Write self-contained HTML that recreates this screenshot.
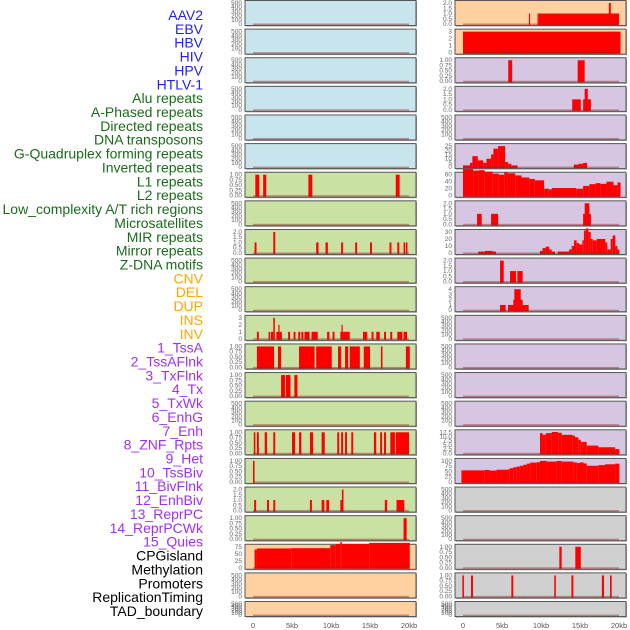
<!DOCTYPE html>
<html><head><meta charset="utf-8"><style>
html,body{margin:0;padding:0;background:#fff;}
svg{display:block;font-family:"Liberation Sans",sans-serif;}
</style></head><body>
<svg id="chart" width="630" height="630" viewBox="0 0 630 630" xmlns="http://www.w3.org/2000/svg"></svg>
<script>
// ---- data (intervals: [start kb, end kb, value]) ----
const trackLabels = ["AAV2","EBV","HBV","HIV","HPV","HTLV-1","Alu repeats","A-Phased repeats","Directed repeats","DNA transposons","G-Quadruplex forming repeats","Inverted repeats","L1 repeats","L2 repeats","Low_complexity A/T rich regions","Microsatellites","MIR repeats","Mirror repeats","Z-DNA motifs","CNV","DEL","DUP","INS","INV","1_TssA","2_TssAFlnk","3_TxFlnk","4_Tx","5_TxWk","6_EnhG","7_Enh","8_ZNF_Rpts","9_Het","10_TssBiv","11_BivFlnk","12_EnhBiv","13_ReprPC","14_ReprPCWk","15_Quies","CPGisland","Methylation","Promoters","ReplicationTiming","TAD_boundary"];
const labelColors = ["#2222ee","#1a6b1a","#ffa500","#a030f0","#000000"];
const labelGroupSizes = [6,13,5,15,5];

const ticksEmpty = ["0","100","200","300","400","500"];
const ticks1 = ["0.00","0.25","0.50","0.75","1.00"];
const ticks2 = ["0.0","0.5","1.0","1.5","2.0"];
const ticks3 = ["0","1","2","3"];
const ticks4 = ["0","1","2","3","4"];
const ticks25 = ["0","5","10","15","20","25"];
const ticks30 = ["0","10","20","30"];
const ticks60 = ["0","20","40","60"];
const ticks75 = ["0","25","50","75"];
const ticks100 = ["0","25","50","75","100"];
const ticks125 = ["0.0","2.5","5.0","7.5","10.0","12.5"];

const L_alu = [[0.3,0.8,1],[1.3,1.7,1],[7.1,7.6,1],[18.3,18.8,1]];
const L_directed = [[0.2,0.45,1],[2.6,2.85,2],[8.1,8.4,1],[9.3,9.6,1],[11.3,11.55,1],[13.1,13.35,1],[15.0,15.25,1],[17.5,17.75,1],[18.5,18.75,1],[19.3,19.5,1],[19.6,19.8,1]];
const L_inverted = [[0.5,0.75,1],[2.0,2.2,1],[2.3,2.6,1],[2.6,2.8,3],[3.0,3.4,1],[3.25,3.4,2],[3.4,3.7,1],[4.5,4.75,1],[5.2,5.45,1],[5.8,6.05,1],[6.2,6.45,1],[6.6,7.25,1],[7.5,8.3,1],[9.5,9.8,1],[10.2,10.45,1],[11.2,11.6,1],[11.35,11.5,2],[11.6,12.4,1],[14.1,14.65,1],[15.2,15.45,1],[15.8,16.25,1],[16.8,17.05,1],[17.6,17.85,1],[18.5,19.15,1],[19.3,19.75,1]];
const L_l1 = [[0.5,2.7,1],[3.2,3.6,1],[5.9,7.9,1],[8.1,10.1,1],[10.9,11.3,1],[11.8,12.2,1],[12.4,13.7,1],[14.2,15.0,1],[16.4,16.6,1],[19.6,20.1,1]];
const L_l2 = [[3.6,4.1,1],[4.2,4.8,1],[5.3,5.7,1]];
const L_microsat = [[0.1,0.3,1],[0.5,0.75,1],[1.5,1.8,1],[2.6,2.85,1],[5.0,5.4,1],[5.9,6.2,1],[7.3,7.7,1],[8.8,9.2,1],[10.8,11.05,1],[11.3,11.55,1],[11.8,12.05,1],[12.6,12.85,1],[15.5,15.8,1],[16.3,16.55,1],[16.8,17.05,1],[17.6,18.2,1],[18.3,20.0,1]];
const L_mir = [[0.0,0.2,1]];
const L_mirror = [[0.15,0.4,1],[1.8,2.05,1],[2.6,2.85,1],[7.3,7.55,1],[8.8,9.15,1],[9.4,9.75,1],[11.2,11.6,1],[11.4,11.6,2],[16.9,17.2,1],[18.4,19.4,1]];
const L_zdna = [[19.3,19.7,1]];
const L_cnv = [[0.2,0.5,65],[0.5,4.9,69],[4.9,9.9,70],[9.9,10.6,81],[10.6,11.2,85],[11.2,11.4,92],[11.4,14.9,85],[14.9,20.1,89]];
const R_ins = [[8.45,8.6,1],[9.55,9.7,1],[9.7,20.0,1],[18.7,18.95,2]];
const R_inv = [[0.0,20.2,3]];
const R_tssa = [[5.8,6.3,1],[14.7,15.6,1]];
const R_tssaflnk = [[14.0,15.1,1],[15.4,16.4,1],[15.6,16.0,2]];
const R_tx = [[0,0.9,2],[0.9,1.2,5],[1.2,1.9,13],[1.9,2.6,8],[2.6,3.0,5],[3.0,3.6,10],[3.6,3.9,15],[3.9,4.5,22],[4.5,5.4,25],[5.4,5.8,6],[5.8,6.2,4],[6.2,7.0,2],[14.2,14.8,3],[14.8,15.4,4],[15.4,15.9,5]];
const R_txwk = [[0,1.3,76],[1.3,2.0,72],[2.0,2.8,73],[2.8,3.8,69],[3.8,4.6,63],[4.6,5.3,60],[5.3,5.7,68],[5.7,6.7,64],[6.7,7.5,58],[7.5,8.5,52],[8.5,9.2,48],[9.2,10.4,44],[10.4,11.0,20],[11.0,11.4,18],[11.4,14.5,22],[14.5,15.4,20],[15.4,16.2,28],[16.2,17.0,33],[17.0,17.6,36],[17.6,18.4,34],[18.4,19.3,40],[19.3,19.8,30],[19.8,20.2,38]];
const R_enhg = [[1.8,2.4,1],[3.6,4.5,1],[15.4,16.4,1],[15.6,16.2,2]];
const R_enh = [[1.97,2.82,2],[2.82,3.81,3],[3.81,4.23,2],[9.87,10.2,3],[10.2,10.6,7],[10.6,11.07,9],[11.07,11.37,5],[11.37,11.8,2],[12.14,13.6,2],[13.6,13.93,5],[13.93,14.23,10],[14.23,14.57,18],[14.57,14.92,14],[14.92,15.3,12],[15.3,15.5,18],[15.5,15.73,32],[15.73,16.07,35],[16.07,16.37,30],[16.37,16.63,20],[16.63,17.14,18],[17.14,18.25,20],[18.25,18.5,15],[18.5,18.93,5],[18.93,19.19,20],[19.19,19.53,25],[19.53,19.79,10],[19.79,20.05,5]];
const R_znf = [[4.75,5.22,2],[6.03,6.8,1],[6.97,7.65,1]];
const R_het = [[4.75,5.47,1],[5.77,8.42,1],[6.45,7.65,2],[6.58,7.4,4]];
const R_reprpc = [[9.87,10.2,12],[10.2,10.6,11],[10.6,11.37,12],[11.37,12.2,12.7],[12.2,12.65,12.2],[12.65,14.06,11],[14.06,14.36,10.5],[14.36,14.79,9.5],[14.79,15.1,8],[15.1,15.86,6.8],[15.86,17.35,4.6],[17.35,19.5,3.6],[19.5,20.05,2.5]];
const R_reprpcwk = [[-0.2,2.8,55],[2.8,3.4,57],[3.4,4.3,54],[4.3,5.7,58],[5.7,6.0,60],[6.0,6.45,65],[6.45,6.9,70],[6.9,7.3,73],[7.3,7.75,77],[7.75,8.2,82],[8.2,8.6,87],[8.6,9.45,92],[9.45,9.87,94],[9.87,10.7,100],[10.7,12.0,97],[12.0,12.65,100],[12.65,14.15,97],[14.15,14.6,93],[14.6,15.0,90],[15.0,15.45,93],[15.45,15.86,88],[15.86,17.35,77],[17.35,18.2,80],[18.2,19.5,84],[19.5,20.05,87]];
const R_quies = [[12.35,12.65,1],[14.4,15.1,1]];
const R_cpg = [[-0.08,0.12,1],[1.03,1.28,1],[6.2,6.45,1],[11.7,11.9,1],[13.9,14.15,1],[17.8,18.08,1],[18.85,19.06,1]];
const xTickLabels = ["0","5kb","10kb","15kb","20kb"];
const xTickValues = [0,5,10,15,20];

// ---- layout ----
const colors = {b:"#c8e4ec",g:"#c9e1a3",o:"#ffd0a0",p:"#d6c6e2",k:"#d0d0d0"};
const leftCol = [
 ["b",ticksEmpty,[]],["b",ticksEmpty,[]],["b",ticksEmpty,[]],["b",ticksEmpty,[]],["b",ticksEmpty,[]],["b",ticksEmpty,[]],
 ["g",ticks1,L_alu],["g",ticksEmpty,[]],["g",ticks2,L_directed],["g",ticksEmpty,[]],["g",ticksEmpty,[]],["g",ticks3,L_inverted],
 ["g",ticks1,L_l1],["g",ticks1,L_l2],["g",ticksEmpty,[]],["g",ticks1,L_microsat],["g",ticks1,L_mir],["g",ticks2,L_mirror],["g",ticks1,L_zdna],
 ["o",ticks75,L_cnv],["o",ticksEmpty,[]],["o",ticksEmpty,[]]];
const rightCol = [
 ["o",ticks2,R_ins],["o",ticks3,R_inv],
 ["p",ticks1,R_tssa],["p",ticks2,R_tssaflnk],["p",ticksEmpty,[]],["p",ticks25,R_tx],["p",ticks60,R_txwk],["p",ticks2,R_enhg],
 ["p",ticks30,R_enh],["p",ticks2,R_znf],["p",ticks4,R_het],["p",ticksEmpty,[]],["p",ticksEmpty,[]],["p",ticksEmpty,[]],["p",ticksEmpty,[]],
 ["p",ticks125,R_reprpc],["p",ticks100,R_reprpcwk],
 ["k",ticksEmpty,[]],["k",ticksEmpty,[]],["k",ticks1,R_quies],["k",ticks1,R_cpg],["k",ticksEmpty,[]]];

const svg = document.getElementById('chart');
const NS = "http://www.w3.org/2000/svg";
function mk(tag, attrs, parent){const e=document.createElementNS(NS,tag);for(const k in attrs)e.setAttribute(k,attrs[k]);(parent||svg).appendChild(e);return e;}

// labels
let gi=0, gc=0;
trackLabels.forEach((t,i)=>{
  const e = mk('text',{x:203,y:15+i*13.86+5,'text-anchor':'end','font-size':'14',fill:labelColors[gi]});
  e.textContent=t;
  
  
  gc++; if(gc>=labelGroupSizes[gi]){gi++;gc=0;}
});

function drawCol(col, px, x0, side, nameOffset){
  const xs = kb => x0 + kb*7.8;
  col.forEach((p,i)=>{
    const top = 0.5 + i*28.62;
    const h = (i===21)?15:25;
    const g = mk('g',{});
    
    
    mk('rect',{x:px+1,y:top+1,width:171,height:h,fill:'#a0a0a0'},g);
    mk('rect',{x:px,y:top,width:171,height:h,fill:colors[p[0]],stroke:'#555','stroke-width':1},g);
    const ticks=p[1]; const maxv=parseFloat(ticks[ticks.length-1]);
    const bot = top+h-1.5, span=h-4;
    const ys = v => bot - v/maxv*span;
    ticks.forEach(t=>{
      const tt = mk('text',{x:px-3,y:ys(parseFloat(t))+2,'text-anchor':'end','font-size':'6.5',fill:'#666'},g);
      tt.textContent=t;
      
      
    });
    p[2].forEach(d=>{
      const r = mk('rect',{x:xs(d[0]),y:ys(d[2]),width:Math.max(1.2,xs(d[1])-xs(d[0])),height:bot-ys(d[2])+1,fill:'#ff0000'},g);
      
      
    });
    mk('rect',{x:xs(0),y:bot-0.5,width:xs(20)-xs(0),height:1.5,fill:'rgba(150,30,30,0.45)'},g);
  });
  xTickValues.forEach((v,k)=>{
    const t = mk('text',{x:xs(v),y:628,'text-anchor':'middle','font-size':'7.5',fill:'#555'});
    t.textContent=xTickLabels[k];
    
    
  });
}
drawCol(leftCol,245,253,'left',0);
drawCol(rightCol,455,463,'right',22);
</script>
</body></html>
